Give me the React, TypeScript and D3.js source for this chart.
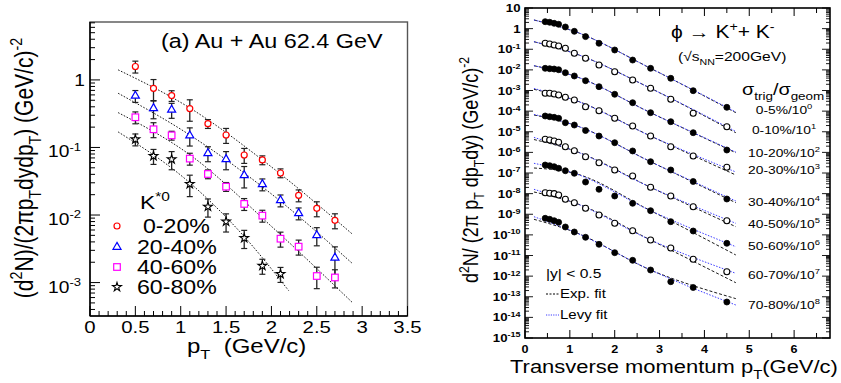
import { useRef, useEffect } from 'react';
import * as d3 from 'd3';

// ---- left panel: K*0, Au+Au 62.4 GeV ----
const kPt = [0.5, 0.7, 0.9, 1.1, 1.3, 1.5, 1.7, 1.9, 2.1, 2.3, 2.5, 2.7];
const k0_20 = [1.58, 0.75, 0.586, 0.376, 0.225, 0.153, 0.0774, 0.0653, 0.0419, 0.0196, 0.01256, 0.00834];
const k20_40 = [0.58, 0.38, 0.36, 0.15, 0.082, 0.0668, 0.0387, 0.0285, 0.0165, 0.0106, 0.005, 0.00233];
const k40_60 = [0.28, 0.186, 0.151, 0.0684, 0.0405, 0.0263, 0.0146, 0.0098, 0.00446, 0.0034, 0.00125, 0.00119];
const k60_80 = [0.132, 0.0748, 0.0668, 0.0288, 0.0133, 0.008, 0.00456, 0.00177, 0.00134];
// relative errors
const kErr0_20 = [0.2, 0.35, 0.18, 0.35, 0.15, 0.25, 0.25, 0.15, 0.15, 0.2, 0.25, 0.25];
const kErr20_40 = [0.2, 0.3, 0.25, 0.3, 0.25, 0.3, 0.35, 0.2, 0.2, 0.2, 0.3, 0.45];
const kErr40_60 = [0.2, 0.25, 0.15, 0.2, 0.15, 0.15, 0.2, 0.2, 0.25, 0.25, 0.35, 0.3];
const kErr60_80 = [0.2, 0.25, 0.3, 0.35, 0.3, 0.3, 0.3, 0.25, 0.25];
// exponential fit curves (knots)
const kFitPt = [0.31, 1.1, 2.0, 2.89];
const kFitPt60_80 = [0.31, 1.1, 1.7, 2.19];
const kFit0_20 = [1.41, 0.385, 0.0515, 0.00525];
const kFit20_40 = [0.635, 0.153, 0.0205, 0.00193];
const kFit40_60 = [0.328, 0.078, 0.0068, 0.00051];
const kFit60_80 = [0.17, 0.03, 0.0048, 0.00076];
const kLabels = ['0-20%', '20-40%', '40-60%', '60-80%'];
const kXTicks = [0, 0.5, 1, 1.5, 2, 2.5, 3, 3.5];
const kYTicks = [1, 0.1, 0.01, 0.001];

// ---- right panel: phi -> K+K-, 200 GeV ----
const phiPt = [0.45, 0.55, 0.65, 0.75, 0.9, 1.1, 1.35, 1.65, 2.0, 2.4, 2.8, 3.25, 3.75, 4.5];
const phi0_5 = [2.17, 2.03, 1.81, 1.62, 1.2, 0.74, 0.41, 0.195, 0.092, 0.03, 0.0119, 0.0039, 9.8e-4, 1.53e-4];
const phi0_10 = [0.195, 0.18, 0.161, 0.144, 0.111, 0.0637, 0.0364, 0.0172, 0.00816, 0.00323, 0.00128, 3.74e-4, 7.85e-5, 1.76e-5];
const phi10_20 = [0.0119, 0.0114, 0.011, 0.0102, 0.0073, 0.00505, 0.00299, 0.00153, 6.55e-4, 2.56e-4, 8.4e-5, 3.07e-5, 9.0e-6, 1.3e-6];
const phi20_30 = [7.3e-4, 7.3e-4, 6.76e-4, 6.05e-4, 4.68e-4, 3.46e-4, 1.64e-4, 1.05e-4, 4.49e-5, 1.9e-5, 6.2e-6, 1.88e-6, 6.7e-7, 1.89e-7];
const phi30_40 = [5.8e-5, 5.37e-5, 5.02e-5, 4.49e-5, 2.75e-5, 2.12e-5, 1.15e-5, 6.2e-6, 2.94e-6, 1.17e-6, 3.53e-7, 1.4e-7, 3.87e-8, 5.48e-9];
const phi40_50 = [4.31e-6, 3.98e-6, 3.56e-6, 3.08e-6, 1.88e-6, 1.2e-6, 6.17e-7, 3.16e-7, 1.4e-7, 7.16e-8, 2.03e-8, 7.67e-9, 2.32e-9, 4.86e-10];
const phi50_60 = [2.44e-7, 2.26e-7, 2.02e-7, 1.69e-7, 1.29e-7, 9.67e-8, 3.66e-8, 1.62e-8, 7.67e-9, 3.4e-9, 1.49e-9, 4.36e-10, 1.54e-10, 3.91e-11];
const phi60_70 = [1.11e-8, 1.04e-8, 1.0e-8, 8.58e-9, 5.31e-9, 3.63e-9, 1.94e-9, 9.2e-10, 3.64e-10, 1.59e-10, 5.65e-11, 2.31e-11, 6.55e-12, 1.64e-12];
const phi70_80 = [6.37e-10, 5.69e-10, 4.86e-10, 4.07e-10, 2.41e-10, 1.38e-10, 7.62e-11, 3.49e-11, 1.37e-11, 5.85e-12, 1.98e-12, 5.37e-13, 2.81e-13, 5.56e-14];
const phiFitPt = [0.2, 1.1, 2.8, 4.7];
const phiExpFit = [
  [2.62, 0.741, 1.19e-2, 8.4e-5],
  [0.232, 0.0637, 1.28e-3, 9.0e-6],
  [0.0159, 5.05e-3, 8.4e-5, 9.6e-7],
  [1.14e-3, 3.46e-4, 6.2e-6, 8.0e-8],
  [6.5e-5, 2.12e-5, 3.53e-7, 3.63e-9],
  [4.2e-6, 1.2e-6, 2.03e-8, 2.49e-10],
  [1.75e-7, 9.7e-8, 1.49e-9, 1.06e-11],
  [1.2e-8, 3.63e-9, 5.65e-11, 4.8e-13],
  [5.69e-10, 1.38e-10, 1.98e-12, 8.1e-14],
];
const phiLevyFit = [
  [2.62, 0.741, 1.19e-2, 9.1e-5],
  [0.232, 0.0637, 1.28e-3, 1.03e-5],
  [0.0159, 5.05e-3, 8.4e-5, 1.04e-6],
  [1.25e-3, 3.46e-4, 6.2e-6, 1.12e-7],
  [6.9e-5, 2.12e-5, 3.53e-7, 4.39e-9],
  [5.3e-6, 1.2e-6, 2.03e-8, 3.64e-10],
  [2.95e-7, 9.7e-8, 1.49e-9, 2.67e-11],
  [1.62e-8, 3.63e-9, 5.65e-11, 1.37e-12],
  [7.6e-10, 1.38e-10, 1.98e-12, 3.98e-14],
];
const phiCent = ['0-5%', '0-10%', '10-20%', '20-30%', '30-40%', '40-50%', '50-60%', '60-70%', '70-80%'];
const phiXTicks = [0, 1, 2, 3, 4, 5, 6];

const FONT = "'Liberation Sans', Arial, Helvetica, sans-serif";
const SX = 1.2; // the figure is stretched horizontally

type Part = string | [string, 'sup' | 'sub'];

function addText(g: any, x: number, y: number, parts: Part[], size: number, opt: any = {}) {
  const tf = opt.rotate
    ? `translate(${x},${y}) scale(${SX},1) rotate(-90)`
    : `translate(${x},${y}) scale(${SX},1)`;
  const t = g.append('text')
    .attr('transform', tf)
    .attr('font-family', FONT)
    .attr('font-size', size)
    .attr('font-weight', opt.weight || 'normal')
    .attr('text-anchor', opt.anchor || 'start')
    .attr('fill', opt.fill || '#000')
    .style('white-space', 'pre');
  let shift = 0;
  parts.forEach(p => {
    const [s, kind] = typeof p === 'string' ? [p, ''] : p;
    const target = kind === 'sup' ? -0.42 * size : kind === 'sub' ? 0.3 * size : 0;
    const ts = t.append('tspan').text(s);
    if (target - shift !== 0) ts.attr('dy', target - shift);
    if (kind) ts.attr('font-size', size * 0.68);
    shift = target;
  });
  return t;
}

const App = () => {
  const svgRef = useRef<SVGSVGElement>(null);

  useEffect(() => {
    const svg = d3.select(svgRef.current);
    svg.selectAll('*').remove();

    // ================= LEFT PANEL =================
    const xL = d3.scaleLinear().domain([0, 3.5]).range([90, 407.5]);
    const yL = d3.scaleLog().domain([3.2e-4, 7.2]).range([316, 22]);
    const gl = svg.append('g');

    gl.append('rect')
      .attr('x', 90).attr('y', 22).attr('width', 317.5).attr('height', 294)
      .attr('fill', 'none').attr('stroke', '#555').attr('stroke-width', 1.4);
    gl.append('line').attr('x1', 90).attr('x2', 90).attr('y1', 22).attr('y2', 316)
      .attr('stroke', '#000').attr('stroke-width', 1.5);
    gl.append('line').attr('x1', 90).attr('x2', 407.5).attr('y1', 316).attr('y2', 316)
      .attr('stroke', '#000').attr('stroke-width', 1.5);

    // left y ticks
    for (let k = -4; k <= 0; k++) {
      for (let m = 1; m <= 9; m++) {
        const v = m * Math.pow(10, k);
        if (v < 3.2e-4 || v > 7.2) continue;
        gl.append('line')
          .attr('x1', 90).attr('x2', 90 + (m === 1 ? 10 : 5))
          .attr('y1', yL(v)).attr('y2', yL(v))
          .attr('stroke', '#000').attr('stroke-width', 1);
      }
    }
    // bottom x ticks
    d3.range(0, 36).forEach(i => {
      const v = i / 10;
      gl.append('line')
        .attr('x1', xL(v)).attr('x2', xL(v))
        .attr('y1', 316).attr('y2', 316 - (i % 5 === 0 ? 10 : 5))
        .attr('stroke', '#000').attr('stroke-width', 1);
    });

    kXTicks.forEach(v => {
      addText(gl, xL(v), 333, [String(v)], 17, { anchor: 'middle' });
    });
    kYTicks.forEach(v => {
      if (v === 1) {
        addText(gl, 85, yL(v) + 6, ['1'], 16, { anchor: 'end' });
      } else {
        const e = Math.round(Math.log10(v));
        addText(gl, 81, yL(v) + 10, ['10', [String(e), 'sup']], 16, { anchor: 'end' });
      }
    });

    // axis titles
    addText(gl, 187, 353, ['p', ['T', 'sub'], '  (GeV/c)'], 20);
    addText(gl, 33, 168, ['(d', ['2', 'sup'], 'N)/(2\u03C0p', ['T', 'sub'], 'dydp', ['T', 'sub'], ') (GeV/c)', ['-2', 'sup']], 21,
      { rotate: true, anchor: 'middle' });
    addText(gl, 161, 48, ['(a) Au + Au 62.4 GeV'], 19.5);

    // fits
    const lineL = d3.line<[number, number]>()
      .x(d => xL(d[0])).y(d => yL(d[1]))
      .curve(d3.curveMonotoneX);
    const fitsL: [number[], number[]][] = [
      [kFitPt, kFit0_20], [kFitPt, kFit20_40], [kFitPt, kFit40_60], [kFitPt60_80, kFit60_80],
    ];
    fitsL.forEach(([px, vals]) => {
      gl.append('path')
        .attr('d', lineL(px.map((p, i) => [p, vals[i]] as [number, number])))
        .attr('fill', 'none').attr('stroke', '#000').attr('stroke-width', 0.9)
        .attr('stroke-dasharray', '1.6,1.6');
    });

    const seriesL = [
      { vals: k0_20, err: kErr0_20, color: '#ff0000', shape: 'circle' },
      { vals: k20_40, err: kErr20_40, color: '#0000ff', shape: 'triangle' },
      { vals: k40_60, err: kErr40_60, color: '#ff00ff', shape: 'square' },
      { vals: k60_80, err: kErr60_80, color: '#000000', shape: 'star' },
    ];

    const drawMarker = (g: any, x: number, y: number, shape: string, color: string) => {
      if (shape === 'circle') {
        g.append('circle').attr('cx', x).attr('cy', y).attr('r', 3)
          .attr('fill', '#fff').attr('stroke', color).attr('stroke-width', 1.2);
      } else if (shape === 'square') {
        g.append('rect').attr('x', x - 3.3).attr('y', y - 3.3).attr('width', 6.6).attr('height', 6.6)
          .attr('fill', '#fff').attr('stroke', color).attr('stroke-width', 1.2);
      } else if (shape === 'triangle') {
        g.append('path').attr('d', d3.symbol(d3.symbolTriangle, 28)())
          .attr('transform', `translate(${x},${y})`)
          .attr('fill', '#fff').attr('stroke', color).attr('stroke-width', 1.2);
      } else {
        g.append('path').attr('d', d3.symbol(d3.symbolStar, 24)())
          .attr('transform', `translate(${x},${y})`)
          .attr('fill', '#fff').attr('stroke', color).attr('stroke-width', 1.1);
      }
    };

    seriesL.forEach(s => {
      s.vals.forEach((v, i) => {
        const x = xL(kPt[i]);
        const y1 = yL(v * (1 + s.err[i]));
        const y2 = yL(v * (1 - s.err[i]));
        gl.append('line').attr('x1', x).attr('x2', x).attr('y1', y1).attr('y2', y2)
          .attr('stroke', '#222').attr('stroke-width', 1.3);
        [y1, y2].forEach(yy => {
          gl.append('line').attr('x1', x - 3).attr('x2', x + 3).attr('y1', yy).attr('y2', yy)
            .attr('stroke', '#222').attr('stroke-width', 1.2);
        });
      });
      s.vals.forEach((v, i) => drawMarker(gl, xL(kPt[i]), yL(v), s.shape, s.color));
    });

    // legend
    addText(gl, 140, 209, ['K', ['*0', 'sup']], 19);
    const legY = [226, 247, 267, 287];
    seriesL.forEach((s, i) => {
      drawMarker(gl, 117, legY[i], s.shape, s.color);
      addText(gl, i === 0 ? 143 : 137, legY[i] + 7, [kLabels[i]], 19.3);
    });

    // ================= RIGHT PANEL =================
    const xR = d3.scaleLinear().domain([0, 6.8]).range([525, 830]);
    const yR = d3.scaleLog().domain([1e-15, 10]).range([338, 8]);
    const gr = svg.append('g');

    gr.append('rect')
      .attr('x', 525).attr('y', 8).attr('width', 305).attr('height', 330)
      .attr('fill', 'none').attr('stroke', '#000').attr('stroke-width', 1.6);

    for (let k = -15; k <= 1; k++) {
      for (let m = 1; m <= 9; m++) {
        const v = m * Math.pow(10, k);
        if (v < 1e-15 || v > 10) continue;
        const len = m === 1 ? 8 : 4;
        const y = yR(v);
        gr.append('line').attr('x1', 525).attr('x2', 525 + len).attr('y1', y).attr('y2', y)
          .attr('stroke', '#000').attr('stroke-width', 0.9);
        gr.append('line').attr('x1', 830).attr('x2', 830 - len).attr('y1', y).attr('y2', y)
          .attr('stroke', '#000').attr('stroke-width', 0.9);
      }
    }
    d3.range(0, 14).forEach(i => {
      const v = i / 2;
      if (v > 6.8) return;
      const len = i % 2 === 0 ? 8 : 5;
      const x = xR(v);
      gr.append('line').attr('x1', x).attr('x2', x).attr('y1', 338).attr('y2', 338 - len)
        .attr('stroke', '#000').attr('stroke-width', 1);
      gr.append('line').attr('x1', x).attr('x2', x).attr('y1', 8).attr('y2', 8 + len)
        .attr('stroke', '#000').attr('stroke-width', 1);
    });

    phiXTicks.forEach(v => {
      addText(gr, xR(v), 352.5, [String(v)], 10.5, { anchor: 'middle', weight: 'bold' });
    });
    d3.range(-15, 2).forEach(e => {
      const y = yR(Math.pow(10, e)) + 4;
      if (e === 1) addText(gr, 520.5, y, ['10'], 11, { anchor: 'end', weight: 'bold' });
      else if (e === 0) addText(gr, 520.5, y, ['1'], 11, { anchor: 'end', weight: 'bold' });
      else addText(gr, 520.5, y, ['10', [String(e), 'sup']], 11, { anchor: 'end', weight: 'bold' });
    });

    addText(gr, 510, 373, ['Transverse momentum p', ['T', 'sub'], '(GeV/c)'], 18.3);
    addText(gr, 478, 170, ['d', ['2', 'sup'], 'N/ (2\u03C0 p', ['T', 'sub'], ' dp', ['T', 'sub'], 'dy) (GeV/c)', ['-2', 'sup']], 18,
      { rotate: true, anchor: 'middle' });

    // fits
    const lineR = d3.line<[number, number]>()
      .x(d => xR(d[0])).y(d => yR(d[1]))
      .curve(d3.curveMonotoneX);
    phiExpFit.forEach(vals => {
      gr.append('path')
        .attr('d', lineR(phiFitPt.map((p, i) => [p, vals[i]] as [number, number])))
        .attr('fill', 'none').attr('stroke', '#000').attr('stroke-width', 0.9)
        .attr('stroke-dasharray', '3,2');
    });
    phiLevyFit.forEach(vals => {
      gr.append('path')
        .attr('d', lineR(phiFitPt.map((p, i) => [p, vals[i]] as [number, number])))
        .attr('fill', 'none').attr('stroke', '#3c3cff').attr('stroke-width', 1)
        .attr('stroke-dasharray', '1.5,1.5');
    });

    const seriesR = [phi0_5, phi0_10, phi10_20, phi20_30, phi30_40, phi40_50, phi50_60, phi60_70, phi70_80];
    seriesR.forEach((vals, si) => {
      const open = si % 2 === 1;
      gr.selectAll(null)
        .data(vals)
        .enter()
        .append('circle')
        .attr('cx', (d, i) => xR(phiPt[i]))
        .attr('cy', d => yR(d))
        .attr('r', 3)
        .attr('fill', open ? '#fff' : '#000')
        .attr('stroke', '#000')
        .attr('stroke-width', open ? 1.1 : 0.8);
      // centrality label next to last point
      const last = vals[vals.length - 1];
      addText(gr, 784, yR(last) + 7, [phiCent[si] + '/10', [String(si), 'sup']], 11.5, { anchor: 'middle' });
    });

    addText(gr, 671, 38, ['\u03D5 \u2192 K', ['+', 'sup'], '+ K', ['-', 'sup']], 17.5);
    addText(gr, 678, 61, ['(\u221A', 's', ['NN', 'sub'], '=200GeV)'], 13);
    addText(gr, 742, 95, ['\u03C3', ['trig', 'sub'], '/\u03C3', ['geom', 'sub']], 16.5);

    addText(gr, 546, 278, ['|y| < 0.5'], 13);
    gr.append('line').attr('x1', 546).attr('x2', 559).attr('y1', 294).attr('y2', 294)
      .attr('stroke', '#000').attr('stroke-dasharray', '2,1.5');
    addText(gr, 560, 298, ['Exp. fit'], 12.5);
    gr.append('line').attr('x1', 546).attr('x2', 559).attr('y1', 315).attr('y2', 315)
      .attr('stroke', '#3c3cff').attr('stroke-dasharray', '1.2,1.2');
    addText(gr, 560, 319, ['Levy fit'], 12.5);
  }, []);

  return (
    <svg
      ref={svgRef}
      width={841}
      height={383}
      style={{ position: 'absolute', left: 0, top: 0, background: '#fff' }}
    />
  );
};

export default App;
